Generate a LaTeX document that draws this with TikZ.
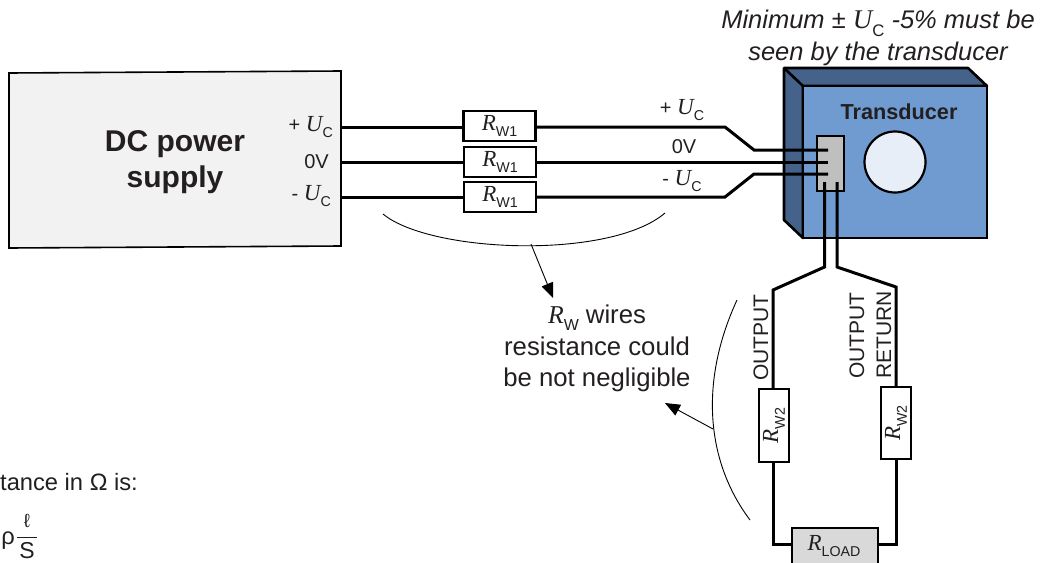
\documentclass[tikz,border=0pt]{standalone}
\usepackage{fontspec}
\setmainfont{Liberation Sans}
\newfontfamily\serifit[ItalicFont=Liberation Serif Italic]{Liberation Serif}
\usetikzlibrary{arrows.meta}
\definecolor{txt}{HTML}{231F20}
\definecolor{front}{HTML}{6F9BD1}
\definecolor{side}{HTML}{44628A}
\definecolor{lens}{HTML}{E7EEF7}
\definecolor{pinbox}{HTML}{BFBFBF}
\definecolor{psfill}{HTML}{F2F2F2}
\definecolor{loadfill}{HTML}{D9D9D9}
\newcommand{\fs}[1]{\fontsize{#1}{#1}\selectfont}
\newcommand{\qty}[3]{{\fontsize{#1}{#1}\selectfont{\serifit\itshape #2}\raisebox{-0.55ex}{\fontsize{\dimexpr #1pt*62/100\relax}{8}\selectfont #3}}}
\tikzset{
  x=1pt,y=-1pt,
  wire/.style={line width=3pt,black,line join=miter},
  thinarc/.style={line width=0.9pt,black},
  pointer/.style={line width=0.9pt,black,-{Triangle[length=15pt,width=12pt]}},
  resistor/.style={draw=black,line width=2.4pt,fill=white,inner sep=0pt,text=txt},
  lab/.style={inner sep=0pt,text=txt,font=\fs{20}},
  face/.style={draw=black,line width=2.6pt,line join=round},
}
\begin{document}
\begin{tikzpicture}
\useasboundingbox (0,0) rectangle (1040,562);
\clip (0,0) rectangle (1040,562);
% power supply
\draw[fill=psfill,line width=1.6pt,draw=black] (9,73) -- (341,71) -- (341,246) -- (9,248) -- cycle;
\node[inner sep=0pt,text=txt,font=\fs{30}\bfseries,align=center] (ps) at (175,162) {DC power\\[6pt]supply};
\node[lab,anchor=east] (lp) at (333,127) {+ \qty{23}{U}{C}};
\node[lab,anchor=east] (l0) at (329,162) {0V};
\node[lab,anchor=east] (lm) at (331,196) {- \qty{23}{U}{C}};
% transducer
\draw[face,fill=side] (784,68) -- (968,68) -- (987,86) -- (803,86) -- (803,238) -- (784,220) -- cycle;
\draw[face] (784,68) -- (803,86);
\node[draw=black,line width=2.6pt,fill=front,minimum width=184pt,minimum height=152pt,inner sep=0pt] (tr) at (895,162) {};
\node[inner sep=0pt,text=txt,font=\fs{21.7}\bfseries] (trl) at (899,112) {Transducer};
\node[circle,draw=black,line width=2.2pt,fill=lens,minimum size=61pt,inner sep=0pt] (lensc) at (895,162) {};
\node[draw=black,line width=2pt,fill=pinbox,minimum width=27pt,minimum height=55pt,inner sep=0pt] (pins) at (830.5,163.5) {};
% resistors
\node[resistor,minimum width=72pt,minimum height=30pt] (r1) at (499.5,126) {\qty{23}{R}{W1}};
\node[resistor,minimum width=72pt,minimum height=30pt] (r2) at (500,162) {\qty{23}{R}{W1}};
\node[resistor,minimum width=72pt,minimum height=30pt] (r3) at (500,197) {\qty{23}{R}{W1}};
\node[resistor,minimum width=30pt,minimum height=73pt] (r4) at (774,425.5) {\rotatebox{90}{\qty{23}{R}{W2}}};
\node[resistor,minimum width=30pt,minimum height=72pt] (r5) at (896,423) {\rotatebox{90}{\qty{23}{R}{W2}}};
\node[resistor,fill=loadfill,minimum width=86pt,minimum height=40pt,anchor=north west] (load) at (791,527) {};
\node[inner sep=0pt,text=txt] (loadl) at (834,546) {\qty{23}{R}{LOAD}};
% wire ends
\coordinate (a1) at (341,127); \coordinate (a2) at (341,162); \coordinate (a3) at (341,197);
\coordinate (b1) at (828,150); \coordinate (b2) at (828,162); \coordinate (b3) at (828,174);
\coordinate (c1) at (824.5,182); \coordinate (c2) at (837,182);
% wires
\draw[wire] (a1) -- (r1.west |- a1);
\draw[wire] (a2) -- (r2.west |- a2);
\draw[wire] (a3) -- (r3.west |- a3);
\draw[wire] (r1.east |- a1) -- (725,127) -- (754,150) -- (b1);
\draw[wire] (r2.east |- a2) -- (b2);
\draw[wire] (r3.east |- a3) -- (725,197) -- (754,174) -- (b3);
\draw[wire] (c1) -- (824.5,267) -- (773,290) -- (r4.north -| 773,0);
\draw[wire] (c2) -- (837,267) -- (896,287) -- (r5.north);
\draw[wire] (r4.south -| 773,0) -- (773,544) -- (load.west |- 0,544);
\draw[wire] (r5.south) -- (896,544) -- (load.east |- 0,544);
% wire labels
\node[lab] (t1) at (682,110) {+ \qty{23}{U}{C}};
\node[lab] (t2) at (684,147) {0V};
\node[lab] (t3) at (682,181) {- \qty{23}{U}{C}};
% top caption
\node[inner sep=0pt,text=txt,font=\fs{25.5}\itshape,align=center] (cap) at (878,38) {Minimum ± \textup{\qty{27}{U}{C}} -5\% must be\\[4pt]seen by the transducer};
% side labels
\node[inner sep=0pt,text=txt,font=\fs{21},rotate=90,anchor=west] (o1) at (761,381) {OUTPUT};
\node[inner sep=0pt,text=txt,font=\fs{21},rotate=90,anchor=west] (o2) at (857,379) {OUTPUT};
\node[inner sep=0pt,text=txt,font=\fs{21},rotate=90,anchor=west] (o3) at (884,379) {RETURN};
% note
\node[inner sep=0pt,text=txt,font=\fs{25.7},align=center] (note) at (597,348) {\qty{25.7}{R}{W} wires\\[5pt]resistance could\\[5pt]be not negligible};
% arcs
\coordinate (ap1) at (531,244); \coordinate (ap2) at (713,429);
\draw[thinarc] (383,214) .. controls (430,253) and (610,260) .. (665,213);
\draw[thinarc] (737,300) .. controls (700,380) and (705,460) .. (750,520);
\coordinate (ah1) at (553,298); \coordinate (ah2) at (665,403);
\draw[pointer] (ap1) -- (ah1);
\draw[pointer] (ap2) -- (ah2);
% formula
\node[inner sep=0pt,text=txt,font=\fs{23.7},anchor=west] (ftxt) at (0,482) {tance in Ω is:};
\node[inner sep=0pt,text=txt,font=\fs{23.7}] (rho) at (8,541) {ρ};
\node[inner sep=0pt,text=txt,font=\fs{19}] (ell) at (27,521) {ℓ};
\node[inner sep=0pt,text=txt,font=\fs{23}] (S) at (27,551) {S};
\draw[line width=1pt,txt] (17,537) -- (37,537);
\end{tikzpicture}
\end{document}
